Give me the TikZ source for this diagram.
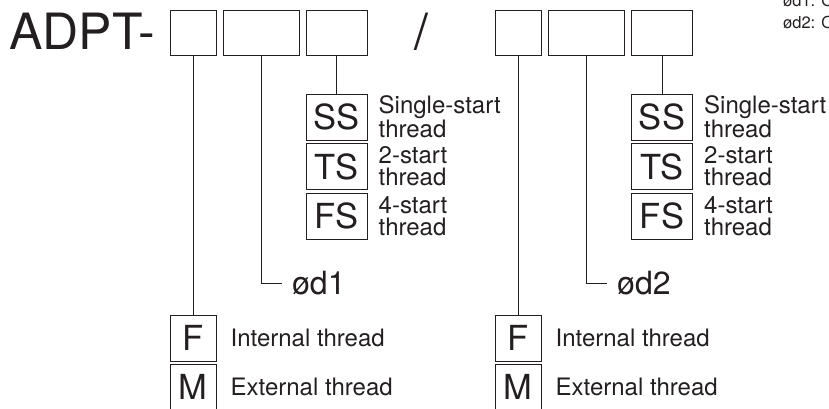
\documentclass[tikz,border=0pt]{standalone}
\usepackage{fontspec}
\setmainfont{TeX Gyre Heros}
\usetikzlibrary{positioning}
\definecolor{ink}{HTML}{231F20}
\tikzset{
  cbox/.style={draw=ink, rectangle, minimum height=45pt, inner sep=0pt, line width=1pt},
  obox/.style={draw=ink, rectangle, minimum width=61pt, minimum height=46pt, inner sep=0pt, line width=1pt, text=ink, font=\fontsize{34.5}{34.5}\selectfont},
  tbox/.style={obox, minimum width=46pt},
  desc/.style={align=left, inner sep=0pt, text=ink, font=\fontsize{24}{22}\selectfont},
  dia/.style={anchor=west, inner sep=0pt, inner xsep=10pt, text=ink, font=\fontsize{32}{32}\selectfont},
  lnk/.style={draw=ink, line width=1pt},
}

\begin{document}
\begin{tikzpicture}[x=1pt, y=-1pt]
\useasboundingbox (0,0) rectangle (829,408);

% Model code
\node[anchor=base west, inner sep=0pt, text=ink, font=\fontsize{50}{50}\selectfont] (head) at (9,49) {ADPT-};
\node[anchor=base, inner sep=0pt, text=ink, font=\fontsize{50}{50}\selectfont] (slash) at (421,49) {/};

\node[anchor=north west, align=left, inner sep=0pt, text=ink, font=\fontsize{16.5}{21.5}\selectfont] (note) at (783,-6)
  {ød1: O\\ød2: O};

% Left code boxes
\node[cbox, minimum width=46pt] (la) at (193,32.5) {};
\node[cbox, minimum width=76pt] (lb) at (261,32.5) {};
\node[cbox, minimum width=61pt] (lc) at (336.5,32.5) {};

% Left starts
\node[obox] (lss) at (336.5,117) {SS};
\node[obox] (lts) at (336.5,166.5) {TS};
\node[obox] (lfs) at (336.5,216) {FS};
\node[desc, right=11pt of lss] (lssd) {Single-start\\thread};
\node[desc, right=11pt of lts] (ltsd) {2-start\\thread};
\node[desc, right=11pt of lfs] (lfsd) {4-start\\thread};

% Left diameter
\node[dia] (ld) at (282,283) {ød1};

% Left thread type
\node[tbox] (lf) at (193,338) {F};
\node[tbox] (lm) at (193,387) {M};
\node[desc, right=14pt of lf] (lfd) {Internal thread};
\node[desc, right=14pt of lm] (lmd) {External thread};

% Right code boxes
\node[cbox, minimum width=46pt] (ra) at (518,32.5) {};
\node[cbox, minimum width=76pt] (rb) at (586,32.5) {};
\node[cbox, minimum width=61pt] (rc) at (662,32.5) {};

% Right starts
\node[obox] (rss) at (662,117) {SS};
\node[obox] (rts) at (662,166.5) {TS};
\node[obox] (rfs) at (662,216) {FS};
\node[desc, right=11pt of rss] (rssd) {Single-start\\thread};
\node[desc, right=11pt of rts] (rtsd) {2-start\\thread};
\node[desc, right=11pt of rfs] (rfsd) {4-start\\thread};

% Right diameter
\node[dia] (rd) at (607,283) {ød2};

% Right thread type
\node[tbox] (rf) at (518,338) {F};
\node[tbox] (rm) at (518,387) {M};
\node[desc, right=14pt of rf] (rfd) {Internal thread};
\node[desc, right=14pt of rm] (rmd) {External thread};

% Leaders
\draw[lnk] (la.south) -- (lf.north);
\draw[lnk] (lb.south) |- (ld.west);
\draw[lnk] (lc.south) -- (lss.north);
\draw[lnk] (ra.south) -- (rf.north);
\draw[lnk] (rb.south) |- (rd.west);
\draw[lnk] (rc.south) -- (rss.north);

\end{tikzpicture}
\end{document}
